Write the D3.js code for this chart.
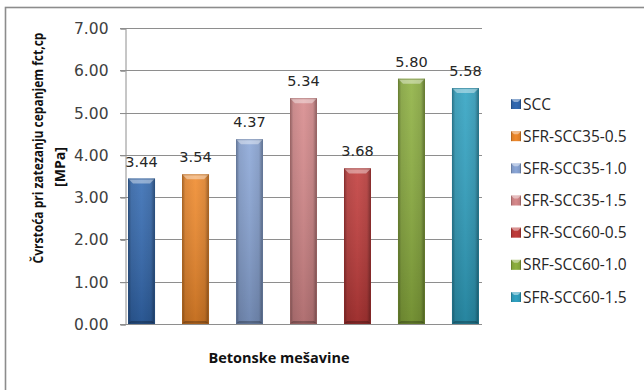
<!DOCTYPE html>
<html>
<head>
<meta charset="utf-8">
<script src="https://cdn.jsdelivr.net/npm/d3@7"></script>
<style>
  html, body { margin: 0; padding: 0; background: #fff; }
  svg { display: block; }
</style>
</head>
<body>
<svg id="chart" width="644" height="390"></svg>
<script>
// Splitting tensile strength of the concrete mixtures
const mixtures = ["SCC", "SFR-SCC35-0.5", "SFR-SCC35-1.0", "SFR-SCC35-1.5",
                  "SFR-SCC60-0.5", "SRF-SCC60-1.0", "SFR-SCC60-1.5"];
const strength = [3.44, 3.54, 4.37, 5.34, 3.68, 5.80, 5.58];
const barColors = ["#336AB2", "#F0892A", "#8AA6D7", "#D7898B", "#C13B3A", "#8DB03F", "#2FA2C2"];
const yTicks = [0, 1, 2, 3, 4, 5, 6, 7];

const yTitle1 = "Čvrstoća pri zatezanju cepanjem fct,cp";
const yTitle2 = "[MPa]";
const xTitle = "Betonske mešavine";

const svg = d3.select("#chart");
const plot = { left: 125, right: 482, top: 28, bottom: 324 };

// outer chart border
svg.append("rect")
  .attr("x", 5.5).attr("y", 7.5).attr("width", 700).attr("height", 500)
  .attr("fill", "none").attr("stroke", "#8c8c8c").attr("stroke-width", 1.6);

const y = d3.scaleLinear().domain([0, 7]).range([plot.bottom, plot.top]);
const x = d3.scaleBand().domain(mixtures)
  .range([plot.left, plot.right]).paddingInner(0.5).paddingOuter(0.056);

// gradients: side shading and vertical shading shared by all bars
const defs = svg.append("defs");
const side = defs.append("linearGradient").attr("id", "side")
  .attr("x1", "0").attr("x2", "1").attr("y1", "0").attr("y2", "0");
[[0, 0.35], [0.12, 0.08], [0.5, 0], [0.85, 0.08], [1, 0.38]].forEach(([o, a]) =>
  side.append("stop").attr("offset", o).attr("stop-color", "#000").attr("stop-opacity", a));
const vert = defs.append("linearGradient").attr("id", "vert")
  .attr("x1", "0").attr("x2", "0").attr("y1", "0").attr("y2", "1");
vert.append("stop").attr("offset", 0).attr("stop-color", "#fff").attr("stop-opacity", 0.12);
vert.append("stop").attr("offset", 1).attr("stop-color", "#000").attr("stop-opacity", 0.18);

// gridlines
svg.append("g").selectAll("line").data(yTicks).join("line")
  .attr("x1", plot.left - 5).attr("x2", plot.right)
  .attr("y1", d => Math.round(y(d)) + 0.5).attr("y2", d => Math.round(y(d)) + 0.5)
  .attr("stroke", "#8e8e8e").attr("stroke-width", 1);

// y axis
const yAxis = svg.append("g").attr("transform", `translate(${plot.left + 0.5},0.5)`)
  .call(d3.axisLeft(y).tickValues(yTicks).tickFormat(d3.format(".2f")).tickSize(5).tickPadding(12));
yAxis.select(".domain").attr("stroke", "#8e8e8e");
yAxis.selectAll(".tick line").attr("stroke", "#8e8e8e");
yAxis.selectAll(".tick text")
  .attr("font-family", "DejaVu Sans").attr("font-size", 15.5).attr("fill", "#404040");

// bars
const bars = svg.append("g").selectAll("g").data(mixtures).join("g");
bars.each(function(name, i) {
  const g = d3.select(this);
  const x0 = x(name), w = x.bandwidth();
  const top = y(strength[i]), h = y(0) - top;
  g.append("rect").attr("x", x0).attr("y", top).attr("width", w).attr("height", h)
    .attr("fill", barColors[i]);
  g.append("rect").attr("x", x0).attr("y", top).attr("width", w).attr("height", h)
    .attr("fill", "url(#vert)");
  g.append("rect").attr("x", x0).attr("y", top).attr("width", w).attr("height", h)
    .attr("fill", "url(#side)");
  // bevelled top edge
  g.append("path")
    .attr("d", `M${x0},${top}L${x0 + w},${top}L${x0 + w - 5},${top + 5}L${x0 + 5},${top + 5}Z`)
    .attr("fill", "#fff").attr("fill-opacity", 0.4);
  // bevelled bottom edge
  g.append("path")
    .attr("d", `M${x0},${top + h}L${x0 + w},${top + h}L${x0 + w - 3},${top + h - 3}L${x0 + 3},${top + h - 3}Z`)
    .attr("fill", "#000").attr("fill-opacity", 0.25);
  g.append("rect").attr("x", x0 + 0.5).attr("y", top + 0.5).attr("width", w - 1).attr("height", h - 1)
    .attr("fill", "none").attr("stroke", d3.color(barColors[i]).darker(0.8)).attr("stroke-opacity", 0.6);
});

// value labels
svg.append("g").selectAll("text").data(mixtures).join("text")
  .attr("x", d => x(d) + x.bandwidth() / 2)
  .attr("y", (d, i) => y(strength[i]) - 12)
  .attr("text-anchor", "middle")
  .attr("font-family", "DejaVu Sans").attr("font-size", 14.5).attr("fill", "#262626")
  .text((d, i) => strength[i].toFixed(2));

// legend
const ly = d3.scalePoint().domain(mixtures).range([104, 297]);
const legend = svg.append("g").selectAll("g").data(mixtures).join("g")
  .attr("transform", d => `translate(511,${ly(d)})`);
legend.append("rect").attr("x", 0).attr("y", -5).attr("width", 10).attr("height", 10)
  .attr("fill", (d, i) => barColors[i]);
legend.append("rect").attr("x", 0).attr("y", -5).attr("width", 10).attr("height", 10)
  .attr("fill", "url(#side)");
legend.append("path").attr("d", "M0,-5L10,-5L7,-2L3,-2Z").attr("fill", "#fff").attr("fill-opacity", 0.45);
legend.append("text").attr("x", 12).attr("y", 0).attr("dy", "0.36em")
  .attr("font-family", "Open Sans").attr("font-size", 15.5).attr("fill", "#262626")
  .text(d => d);

// axis titles, narrowed along the text direction like a condensed bold face
function condensedTitle(text, cx, cy, span) {
  const t = svg.append("text")
    .attr("text-anchor", "middle")
    .attr("font-family", "Open Sans").attr("font-weight", "bold").attr("font-size", 15).attr("fill", "#111")
    .text(text);
  const len = t.node().getComputedTextLength() || span;
  t.attr("transform", `translate(${cx},${cy}) rotate(-90) scale(${span / len},1)`);
}
condensedTitle(yTitle1, 43, 148, 231);
condensedTitle(yTitle2, 65, 167, 40);

svg.append("text")
  .attr("x", 279).attr("y", 363)
  .attr("text-anchor", "middle")
  .attr("font-family", "Open Sans").attr("font-weight", "bold").attr("font-size", 14.5).attr("fill", "#111")
  .text(xTitle);
</script>
</body>
</html>
